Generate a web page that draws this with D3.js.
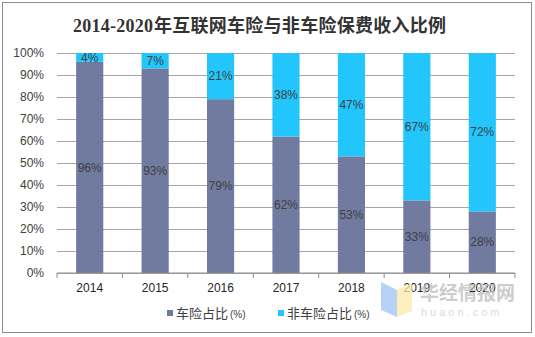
<!DOCTYPE html>
<html>
<head>
<meta charset="utf-8">
<script src="https://cdn.jsdelivr.net/npm/d3@7"></script>
<style>
  body { margin: 0; background: #fff; }
  text { font-family: "Liberation Sans", Arial, "Noto Sans CJK SC", sans-serif; }
</style>
</head>
<body>
<div id="chart"></div>
<script>
const years = ["2014", "2015", "2016", "2017", "2018", "2019", "2020"];
const autoShare = [96, 93, 79, 62, 53, 33, 28];
const nonAutoShare = [4, 7, 21, 38, 47, 67, 72];
const yTicks = [0, 10, 20, 30, 40, 50, 60, 70, 80, 90, 100];
const seriesNames = ["车险占比", "非车险占比"];
const seriesColors = ["#717BA0", "#22C6FD"];

const W = 535, H = 337;
const marg = {top: 53, right: 20, bottom: 64, left: 57};
const wid = W - marg.left - marg.right,
  hei = H - marg.top - marg.bottom;

const svg = d3.select("#chart").append("svg")
  .attr("width", W)
  .attr("height", H);

// outer frame
svg.append("rect")
  .attr("x", 2.5).attr("y", 2.5)
  .attr("width", 529).attr("height", 330)
  .attr("fill", "none")
  .attr("stroke", "#8c8c8c")
  .attr("stroke-width", 1);

// title: digits in serif, CJK part stretched to fit
const title = svg.append("text")
  .attr("x", 73).attr("y", 32)
  .style("font-weight", "bold")
  .style("font-size", "18px")
  .style("fill", "#333");
title.append("tspan")
  .style("font-family", "'Liberation Serif', serif")
  .attr("textLength", 80)
  .text("2014-2020");
title.append("tspan")
  .attr("x", 154)
  .style("font-family", "'Noto Sans CJK SC', sans-serif")
  .attr("textLength", 292)
  .attr("lengthAdjust", "spacing")
  .text("年互联网车险与非车险保费收入比例");

const g = svg.append("g")
  .attr("transform", `translate(${marg.left},${marg.top})`);

const x = d3.scaleBand()
  .domain(years)
  .range([0, wid])
  .paddingInner(0.585)
  .paddingOuter(0.2925);

const y = d3.scaleLinear()
  .domain([0, 100])
  .range([hei, 0]);

// gridlines + y labels
g.append("g")
  .call(d3.axisLeft(y).tickValues(yTicks).tickSize(-wid).tickFormat(d => d + "%").tickPadding(13))
  .call(a => a.select(".domain").remove())
  .call(a => a.selectAll(".tick line").attr("stroke", "#a6a6a6"))
  .call(a => a.selectAll(".tick text")
    .style("font-size", "12px")
    .style("fill", "#404040"));

// stacked bars
const stackData = years.map((yr, i) => ({year: yr, auto: autoShare[i], nonAuto: nonAutoShare[i]}));
const stacked = d3.stack().keys(["auto", "nonAuto"])(stackData);

stacked.forEach((layer, li) => {
  g.append("g").selectAll("rect")
    .data(layer)
    .join("rect")
    .attr("x", d => x(d.data.year))
    .attr("width", x.bandwidth())
    .attr("y", d => y(d[1]))
    .attr("height", d => y(d[0]) - y(d[1]))
    .attr("fill", seriesColors[li]);

  g.append("g").selectAll("text")
    .data(layer)
    .join("text")
    .attr("x", d => x(d.data.year) + x.bandwidth() / 2)
    .attr("y", d => y((d[0] + d[1]) / 2))
    .attr("dy", "0.35em")
    .attr("text-anchor", "middle")
    .style("font-size", "12px")
    .style("fill", "#404040")
    .text(d => (d[1] - d[0]) + "%");
});

// x axis with ticks between categories
const xAxis = g.append("g")
  .attr("transform", `translate(0,${hei})`);
xAxis.append("line")
  .attr("x1", 0).attr("x2", wid)
  .attr("stroke", "#8c8c8c");
xAxis.selectAll(".sep")
  .data(d3.range(years.length + 1))
  .join("line")
  .attr("x1", i => i * wid / years.length)
  .attr("x2", i => i * wid / years.length)
  .attr("y1", 0).attr("y2", 5)
  .attr("stroke", "#8c8c8c");
xAxis.selectAll(".lbl")
  .data(years)
  .join("text")
  .attr("x", d => x(d) + x.bandwidth() / 2)
  .attr("y", 19)
  .attr("text-anchor", "middle")
  .style("font-size", "12px")
  .style("fill", "#262626")
  .text(d => d);

// legend
const legendX = [167, 278];
seriesNames.forEach((name, i) => {
  const lg = svg.append("g").attr("transform", `translate(${legendX[i]},313)`);
  lg.append("rect")
    .attr("x", 0).attr("y", -3)
    .attr("width", 6).attr("height", 6)
    .attr("fill", seriesColors[i]);
  const t = lg.append("text")
    .attr("x", 9).attr("y", 5)
    .style("font-size", "13px")
    .style("fill", "#404040");
  t.append("tspan").style("font-family", "'Noto Sans CJK SC', sans-serif").text(name);
  t.append("tspan").style("font-size", "10px").attr("dx", 2).text("(%)");
});

// watermark
const wm = svg.append("g").style("opacity", 0.75);
wm.append("polygon")
  .attr("points", "381,282 397,290 397,317 381,310")
  .attr("fill", "#9ec4f5");
wm.append("polygon")
  .attr("points", "397,290 412,283 412,311 397,317")
  .attr("fill", "#fbe9a8");
wm.append("text")
  .attr("x", 420).attr("y", 300)
  .style("font-family", "'Noto Sans CJK SC', sans-serif")
  .style("font-weight", "bold")
  .style("font-size", "19px")
  .style("fill", "#bdbdbd")
  .text("华经情报网");
wm.append("text")
  .attr("x", 421).attr("y", 316)
  .style("font-size", "11px")
  .style("letter-spacing", "3px")
  .style("fill", "#cfcfcf")
  .text("huaon.com");
</script>
</body>
</html>
